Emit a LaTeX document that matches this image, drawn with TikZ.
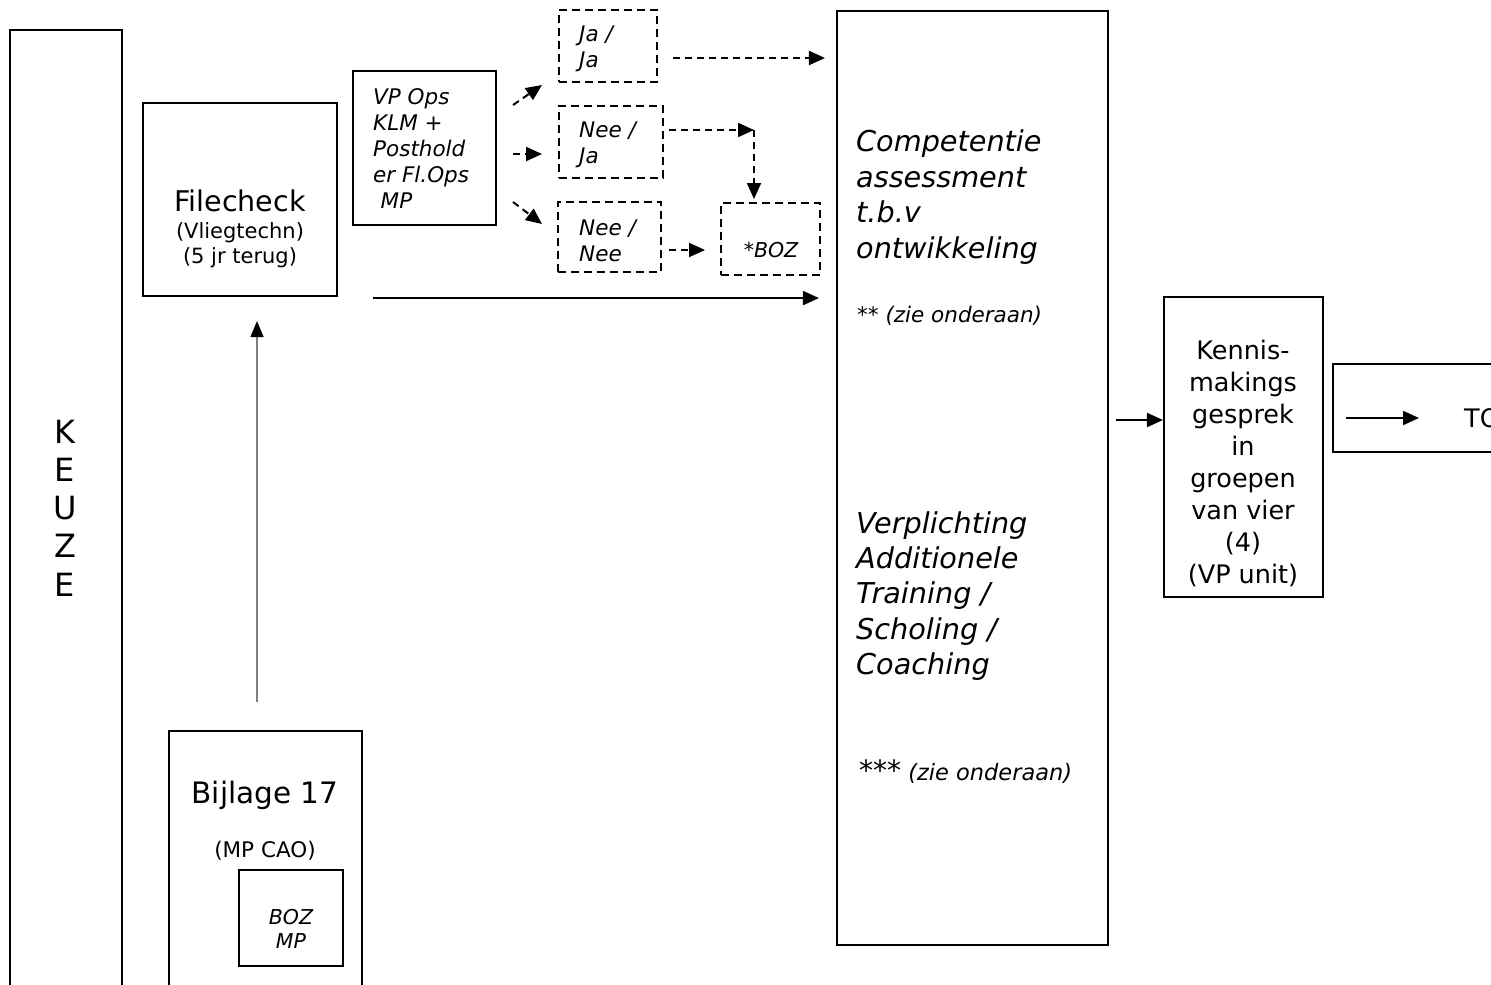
\documentclass[tikz,border=0pt]{standalone}
\usepackage{fontspec}
\setmainfont{DejaVu Sans}
\usetikzlibrary{arrows.meta,positioning}

\begin{document}
\begin{tikzpicture}[x=1pt, y=-1pt,
  box/.style={rectangle, draw, line width=2.1pt, inner sep=0pt},
  dbox/.style={box, line width=2pt, dash pattern=on 8pt off 5pt},
  txt/.style={inner sep=0pt, align=center},
  itxt/.style={inner sep=0pt, align=left, anchor=west, font=\itshape\fontsize{21.5}{26}\selectfont},
  arrow/.style={-{Triangle[length=16pt, width=14pt]}, line width=2pt},
  darrow/.style={arrow, dash pattern=on 7pt off 5pt},
  garrow/.style={-{Triangle[length=16pt, width=13pt, color=black]}, line width=1.4pt, draw=gray}
]
  \useasboundingbox (0,0) rectangle (1491,985);
  \fill[white] (0,0) rectangle (1491,985);
  \clip (0,0) rectangle (1491,985);

  % boxes
  \node[box, minimum width=112pt, minimum height=980pt] (keuze) at (66,520) {};
  \node[box, minimum width=194pt, minimum height=193pt] (fc) at (240,199.5) {};
  \node[box, minimum width=143pt, minimum height=154pt] (vp) at (424.5,148) {};
  \node[dbox, minimum width=98pt, minimum height=72pt] (jaja) at (608,46) {};
  \node[dbox, minimum width=104pt, minimum height=72pt] (neeja) at (611,142) {};
  \node[dbox, minimum width=103pt, minimum height=70pt] (neenee) at (609.5,237) {};
  \node[dbox, minimum width=99pt, minimum height=72pt] (boz) at (770.5,239) {};
  \node[box, minimum width=271pt, minimum height=934pt] (comp) at (972.5,478) {};
  \node[box, minimum width=159pt, minimum height=300pt] (kennis) at (1243.5,447) {};
  \node[box, minimum width=227pt, minimum height=88pt] (to) at (1446.5,408) {};
  \node[box, minimum width=193pt, minimum height=279pt] (bijlage) at (265.5,870.5) {};
  \node[box, minimum width=104pt, minimum height=96pt] (bozmp) at (291,918) {};

  % texts
  \node[txt, font=\fontsize{32}{38.3}\selectfont] (keuzetxt) at (65,508) {K\\E\\U\\Z\\E};
  \node[txt, font=\fontsize{28.5}{32}\selectfont] (fctitle) at (240,201) {Filecheck};
  \node[txt, font=\fontsize{21}{25}\selectfont] (fcsub) at (240,245) {(Vliegtechn)\\(5 jr terug)};
  \node[itxt] (vptxt) at (373,149) {VP Ops\\KLM +\\Posthold\\er Fl.Ops\\\hspace{0.35em}MP};
  \node[itxt] (jajatxt) at (579,49) {Ja /\\Ja};
  \node[itxt] (neejatxt) at (579,145) {Nee /\\Ja};
  \node[itxt] (neeneetxt) at (579,241) {Nee /\\Nee};
  \node[txt, font=\itshape\fontsize{20.5}{24}\selectfont] (boztxt) at (771,250) {*BOZ};
  \node[itxt, font=\itshape\fontsize{28.7}{35.4}\selectfont] (comptxt) at (856,197) {Competentie\\assessment\\t.b.v\\ontwikkeling};
  \node[itxt, font=\fontsize{21.5}{24}\selectfont] (note2) at (857,316) {** \textit{(zie onderaan)}};
  \node[itxt, font=\itshape\fontsize{28.7}{35.4}\selectfont] (verpltxt) at (856,596) {Verplichting\\Additionele\\Training /\\Scholing /\\Coaching};
  \node[itxt, font=\fontsize{22.5}{24}\selectfont] (note3) at (859,772) {{\fontsize{28}{30}\selectfont ***} \textit{(zie onderaan)}};
  \node[txt, font=\fontsize{25.5}{32}\selectfont] (kennistxt) at (1243,463) {Kennis-\\makings\\gesprek\\in\\groepen\\van vier\\(4)\\(VP unit)};
  \node[txt, anchor=west, font=\fontsize{25.5}{30}\selectfont] (totxt) at (1464,418) {TO};
  \node[txt, font=\fontsize{29.5}{34}\selectfont] (bijtitle) at (265,795) {Bijlage 17};
  \node[txt, font=\fontsize{21.5}{25}\selectfont] (bijsub) at (265,851) {(MP CAO)};
  \node[txt, font=\itshape\fontsize{20.5}{24}\selectfont] (bozmptxt) at (291,929) {BOZ\\MP};

  % connectors
  \draw[garrow, shorten <=28pt, shorten >=24pt] ([xshift=-8.5pt]bijlage.north) -- ([xshift=17pt]fc.south);
  \draw[arrow, shorten <=35pt, shorten >=17pt] ([yshift=-1pt]fc.south east) -- ([yshift=-1pt]comp.west |- fc.south east);
  \draw[darrow] ([xshift=16pt,yshift=43pt]vp.east) -- ([xshift=-16pt,yshift=-2pt]jaja.south west);
  \draw[darrow] ([xshift=16pt,yshift=-6pt]vp.east) -- ([xshift=-16pt,yshift=-12pt]neeja.west);
  \draw[darrow] ([xshift=16pt,yshift=-54pt]vp.east) -- ([xshift=-15pt,yshift=-23pt]neenee.north west);
  \draw[darrow, shorten >=11pt] ([xshift=15pt,yshift=-12pt]jaja.east) coordinate (jj) -- (comp.west |- jj);
  \coordinate (bend) at (754,130);
  \draw[darrow] ([xshift=5pt,yshift=12pt]neeja.east) -- (bend);
  \draw[darrow, shorten >=3pt] (bend) -- (bend |- boz.north);
  \draw[darrow, shorten >=15pt] ([xshift=7pt,yshift=-13pt]neenee.east) coordinate (nn) -- (boz.west |- nn);
  \draw[arrow] ([xshift=7pt,yshift=58pt]comp.east) -- ([yshift=27pt]kennis.west);
  \draw[arrow, shorten <=14pt, shorten >=45pt] (to.west |- totxt.west) -- (totxt.west);
\end{tikzpicture}
\end{document}
